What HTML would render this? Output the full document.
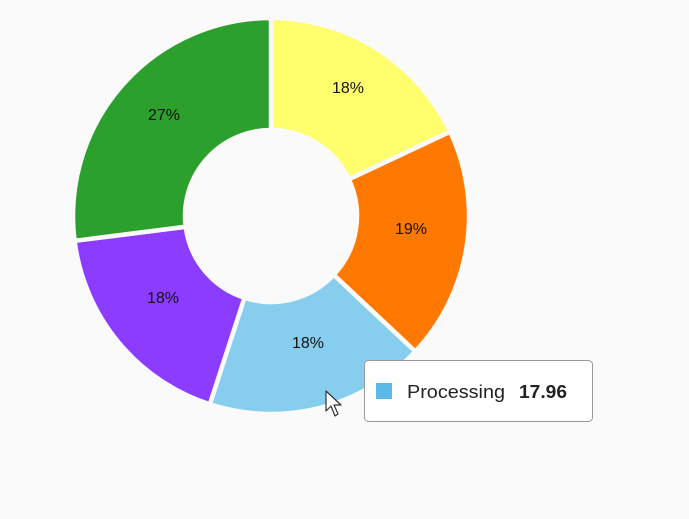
<!DOCTYPE html>
<html><head><style>
body{margin:0;background:#fafafa;width:689px;height:514px;overflow:hidden;font-family:"Liberation Sans",Arial,sans-serif}
</style></head><body>
<svg id="s" width="689" height="514" xmlns="http://www.w3.org/2000/svg">
<g id="segs"></g>
<g font-family="Liberation Sans, Arial, sans-serif" font-size="16" fill="#111" text-anchor="middle">
<text x="348" y="93">18%</text>
<text x="411" y="234">19%</text>
<text x="308" y="348">18%</text>
<text x="163" y="303">18%</text>
<text x="164" y="120">27%</text>
</g>
<rect x="364.5" y="360.5" width="228" height="61" rx="4" fill="#fff" stroke="#999"/>
<rect x="376" y="383" width="16" height="16" fill="#5bb8e8"/>
<text x="407" y="398" font-size="18" textLength="98" lengthAdjust="spacingAndGlyphs" fill="#222" font-family="Liberation Sans, Arial, sans-serif">Processing</text>
<text x="519" y="398" font-size="18" textLength="48" lengthAdjust="spacingAndGlyphs" font-weight="bold" fill="#222" font-family="Liberation Sans, Arial, sans-serif">17.96</text>
<path d="M326 391 L326 411 L331 406 L335 416 L338 414 L334 405 L341 405 Z" fill="#fff" stroke="#333" stroke-width="1.2" stroke-linejoin="round"/>
</svg>
<script>
var cx=271,cy=216,R=198,r=86;
var segs=[[0,18,"#ffff6e"],[18,37,"#ff7800"],[37,55,"#87ceee"],[55,73,"#8c3cff"],[73,100,"#2ca02c"]];
function pt(a,rad){var t=a/100*2*Math.PI;return [cx+rad*Math.sin(t),cy-rad*Math.cos(t)];}
var h="";
segs.forEach(function(s){var a=s[0],b=s[1],lg=(b-a)>50?1:0;
var p1=pt(a,R),p2=pt(b,R),p3=pt(b,r),p4=pt(a,r);
h+='<path d="M'+p1+' A'+R+' '+R+' 0 '+lg+' 1 '+p2+' L'+p3+' A'+r+' '+r+' 0 '+lg+' 0 '+p4+' Z" fill="'+s[2]+'" stroke="#fafafa" stroke-width="4.5" stroke-linejoin="round"/>';});
document.getElementById("segs").innerHTML=h;
</script>
</body></html>
